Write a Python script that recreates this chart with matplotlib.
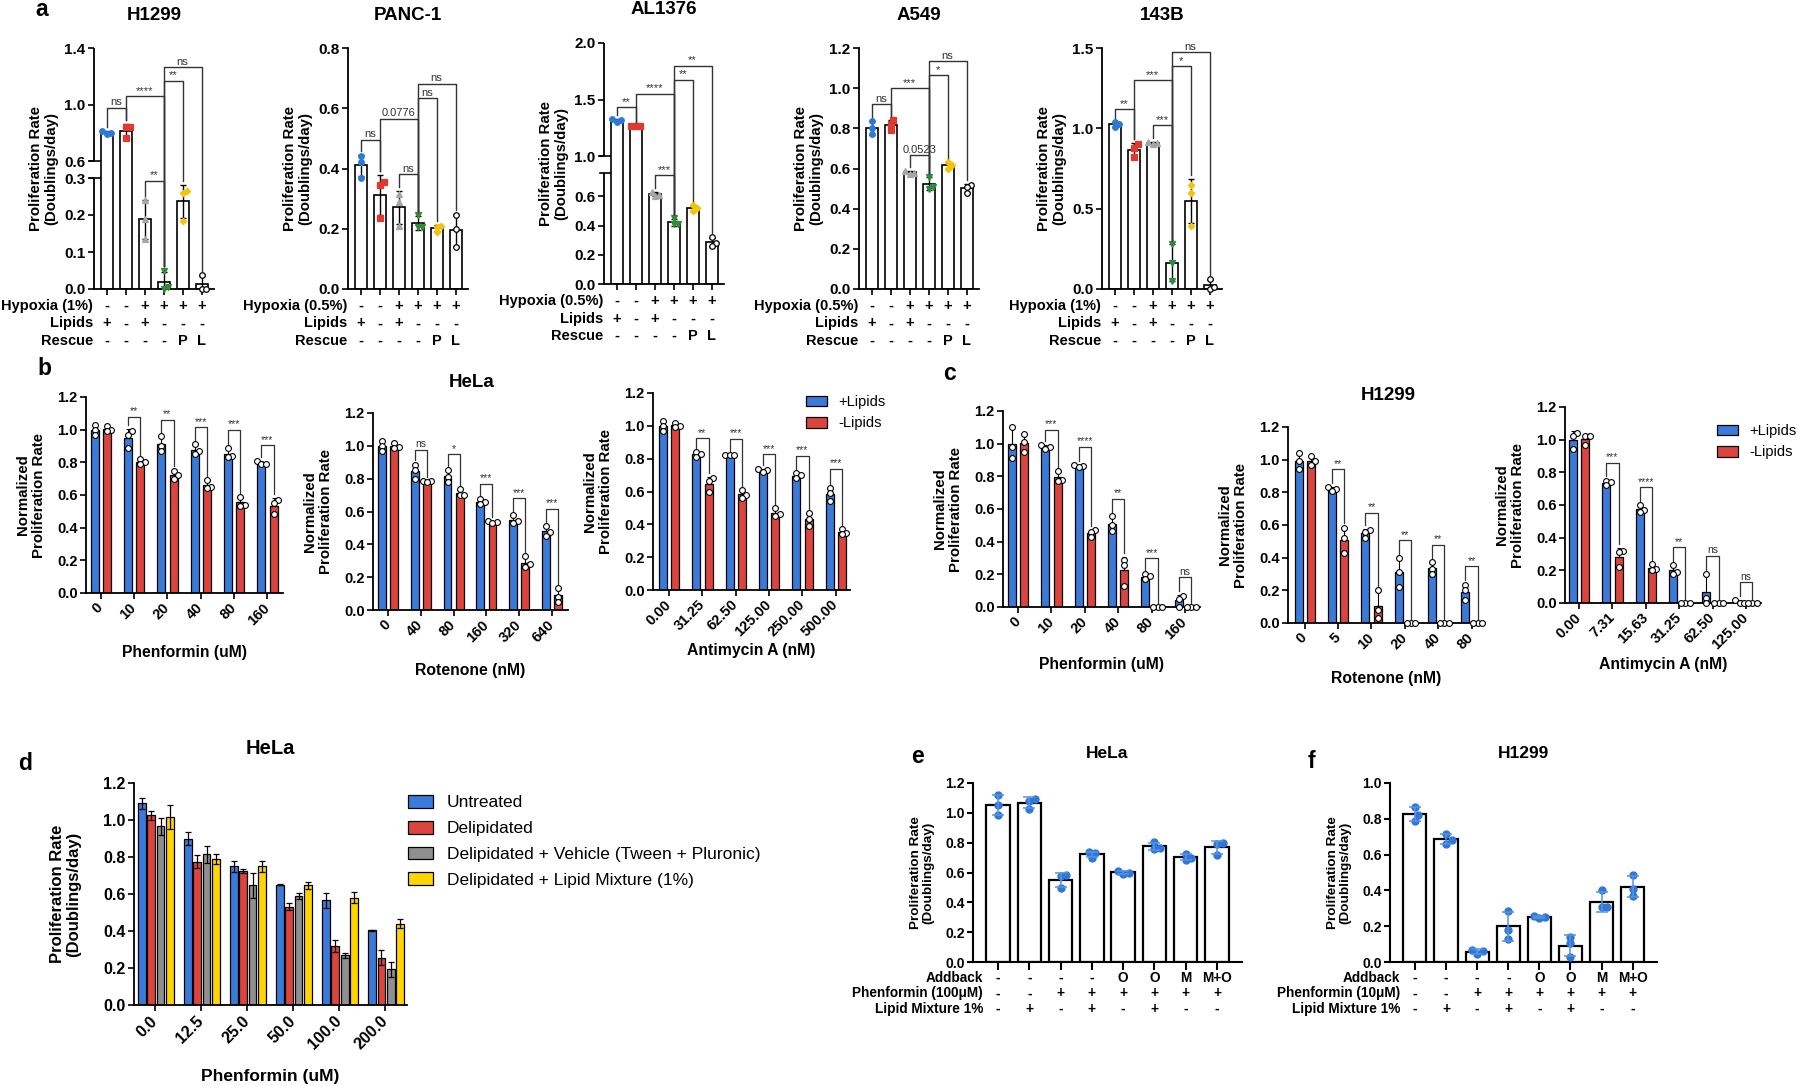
import numpy as np
import matplotlib
matplotlib.use('Agg')
import matplotlib.pyplot as plt
from matplotlib.patches import Patch
from matplotlib.transforms import blended_transform_factory as blend, offset_copy

plt.rcParams['font.family'] = ['Liberation Sans', 'DejaVu Sans']
plt.rcParams['font.weight'] = 'bold'
plt.rcParams['axes.labelweight'] = 'bold'

# ---------------- panel a : proliferation under hypoxia ----------------
h1299_pts = [[0.79, 0.81, 0.80], [0.84, 0.84, 0.76], [0.24, 0.19, 0.135],
             [0.05, 0.0, 0.005], [0.265, 0.26, 0.185], [0.038, 0.0, 0.0]]
panc1_pts = [[0.44, 0.42, 0.37], [0.355, 0.345, 0.235], [0.315, 0.29, 0.21],
             [0.245, 0.205, 0.205], [0.21, 0.205, 0.19], [0.245, 0.20, 0.14]]
al1376_pts = [[1.30, 1.33, 1.32], [1.27, 1.27, 1.265], [0.63, 0.61, 0.605],
              [0.45, 0.41, 0.41], [0.54, 0.52, 0.50], [0.32, 0.28, 0.26]]
a549_pts = [[0.835, 0.80, 0.77], [0.84, 0.82, 0.79], [0.59, 0.58, 0.575],
            [0.56, 0.50, 0.51], [0.63, 0.615, 0.60], [0.52, 0.51, 0.48]]
b143_pts = [[1.03, 1.04, 1.01], [0.90, 0.88, 0.82], [0.91, 0.915, 0.905],
            [0.28, 0.16, 0.05], [0.65, 0.60, 0.39], [0.06, 0.0, 0.01]]
# (bar i, bar j, bracket height, label)
h1299_sig = [(0, 1, 0.977, 'ns'), (1, 3, 1.06, '****'), (3, 4, 1.167, '**'), (3, 5, 1.262, 'ns'), (2, 3, 0.293, '**')]
panc1_sig = [(0, 1, 0.495, 'ns'), (1, 3, 0.565, '0.0776'), (2, 3, 0.382, 'ns'), (3, 4, 0.633, 'ns'), (3, 5, 0.681, 'ns')]
al1376_sig = [(0, 1, 1.432, '**'), (1, 3, 1.553, '****'), (3, 4, 1.676, '**'), (3, 5, 1.80, '**'), (2, 3, 0.745, '***')]
a549_sig = [(0, 1, 0.92, 'ns'), (1, 3, 1.0, '***'), (3, 4, 1.064, '*'), (3, 5, 1.133, 'ns'), (2, 3, 0.667, '0.0523')]
b143_sig = [(0, 1, 1.118, '**'), (1, 3, 1.30, '***'), (3, 4, 1.385, '*'), (3, 5, 1.474, 'ns'), (2, 3, 1.02, '***')]
a_hypoxia = ['-', '-', '+', '+', '+', '+']
a_lipids = ['+', '-', '+', '-', '-', '-']
a_rescue = ['-', '-', '-', '-', 'P', 'L']
a_markers = ['o', 's', '^', 'v', 'D', 'o']
a_colors = ['#2b7bd6', '#e0392f', '#a6a6a6', '#2e8b3a', '#f2c40c', 'white']

# ---------------- panels b, c : +/- lipids with ETC inhibitors ----------------
b1_ticks = ['0', '10', '20', '40', '80', '160']
b1_blue = [[1.03, 1.0, 0.97], [0.99, 0.97, 0.89], [0.96, 0.90, 0.87], [0.91, 0.87, 0.85], [0.89, 0.84, 0.83], [0.81, 0.79, 0.79]]
b1_red = [[1.02, 1.0, 0.99], [0.82, 0.80, 0.79], [0.75, 0.72, 0.70], [0.69, 0.65, 0.64], [0.59, 0.54, 0.535], [0.57, 0.55, 0.485]]
b1_sig = [(1, 1.08, '**'), (2, 1.06, '**'), (3, 1.016, '***'), (4, 1.0, '***'), (5, 0.904, '***')]

b2_ticks = ['0', '40', '80', '160', '320', '640']
b2_blue = [[1.03, 1.0, 0.97], [0.885, 0.855, 0.80], [0.85, 0.81, 0.78], [0.675, 0.66, 0.647], [0.58, 0.54, 0.53], [0.51, 0.473, 0.453]]
b2_red = [[1.02, 0.99, 0.985], [0.787, 0.783, 0.777], [0.736, 0.70, 0.70], [0.545, 0.535, 0.529], [0.327, 0.278, 0.261], [0.137, 0.082, 0.051]]
b2_sig = [(1, 0.976, 'ns'), (2, 0.95, '*'), (3, 0.769, '***'), (4, 0.681, '***'), (5, 0.616, '***')]

b3_ticks = ['0.00', '31.25', '62.50', '125.00', '250.00', '500.00']
b3_blue = [[1.03, 1.0, 0.97], [0.84, 0.83, 0.81], [0.825, 0.82, 0.82], [0.735, 0.73, 0.72], [0.71, 0.70, 0.68], [0.62, 0.59, 0.54]]
b3_red = [[1.02, 1.0, 0.99], [0.68, 0.665, 0.60], [0.61, 0.58, 0.56], [0.50, 0.46, 0.45], [0.47, 0.43, 0.39], [0.37, 0.35, 0.34]]
b3_sig = [(1, 0.925, '**'), (2, 0.92, '***'), (3, 0.827, '***'), (4, 0.817, '***'), (5, 0.738, '***')]

c1_ticks = ['0', '10', '20', '40', '80', '160']
c1_blue = [[1.10, 0.98, 0.91], [0.99, 0.98, 0.97], [0.87, 0.865, 0.86], [0.555, 0.50, 0.463], [0.20, 0.19, 0.17], [0.07, 0.05, 0.0]]
c1_red = [[1.06, 1.01, 0.95], [0.83, 0.78, 0.77], [0.47, 0.46, 0.43], [0.29, 0.255, 0.13], [0.0, 0.0, 0.0], [0.0, 0.0, 0.0]]
c1_sig = [(1, 1.086, '***'), (2, 0.98, '****'), (3, 0.663, '**'), (4, 0.30, '***'), (5, 0.184, 'ns')]

c2_ticks = ['0', '5', '10', '20', '40', '80']
c2_blue = [[1.04, 0.99, 0.94], [0.83, 0.82, 0.81], [0.57, 0.56, 0.52], [0.40, 0.31, 0.22], [0.376, 0.33, 0.30], [0.234, 0.20, 0.142]]
c2_red = [[1.02, 0.99, 0.97], [0.58, 0.52, 0.427], [0.20, 0.08, 0.03], [0.0, 0.0, 0.0], [0.0, 0.0, 0.0], [0.0, 0.0, 0.0]]
c2_sig = [(1, 0.94, '**'), (2, 0.675, '**'), (3, 0.508, '**'), (4, 0.478, '**'), (5, 0.346, '**')]

c3_ticks = ['0.00', '7.31', '15.63', '31.25', '62.50', '125.00']
c3_blue = [[1.04, 1.02, 0.94], [0.75, 0.74, 0.72], [0.60, 0.57, 0.56], [0.23, 0.19, 0.18], [0.18, 0.03, 0.0], [0.02, 0.0, 0.0]]
c3_red = [[1.02, 1.02, 0.97], [0.32, 0.31, 0.22], [0.24, 0.21, 0.20], [0.0, 0.0, 0.0], [0.0, 0.0, 0.0], [0.0, 0.0, 0.0]]
c3_sig = [(1, 0.858, '***'), (2, 0.71, '****'), (3, 0.34, '**'), (4, 0.29, 'ns'), (5, 0.126, 'ns')]

# ---------------- panel d ----------------
d_ticks = ['0.0', '12.5', '25.0', '50.0', '100.0', '200.0']
d_labels = ['Untreated', 'Delipidated', 'Delipidated + Vehicle (Tween + Pluronic)', 'Delipidated + Lipid Mixture (1%)']
d_untreated = [1.09, 0.90, 0.75, 0.65, 0.565, 0.405]
d_untreated_err = [0.03, 0.036, 0.03, 0.003, 0.039, 0.003]
d_delip = [1.025, 0.775, 0.725, 0.532, 0.32, 0.255]
d_delip_err = [0.025, 0.035, 0.01, 0.02, 0.034, 0.041]
d_vehicle = [0.965, 0.815, 0.646, 0.59, 0.268, 0.192]
d_vehicle_err = [0.045, 0.045, 0.066, 0.017, 0.014, 0.041]
d_lipid = [1.016, 0.79, 0.75, 0.648, 0.58, 0.44]
d_lipid_err = [0.067, 0.027, 0.03, 0.019, 0.029, 0.023]

# ---------------- panels e, f : addback ----------------
e_pts = [[1.12, 1.05, 0.988], [1.095, 1.08, 1.026], [0.58, 0.575, 0.498], [0.70, 0.735, 0.73],
         [0.592, 0.612, 0.597], [0.757, 0.804, 0.762], [0.686, 0.726, 0.70], [0.795, 0.717, 0.793]]
f_pts = [[0.79, 0.866, 0.819], [0.717, 0.661, 0.68], [0.045, 0.067, 0.063], [0.287, 0.18, 0.128],
         [0.246, 0.259, 0.253], [0.141, 0.028, 0.104], [0.305, 0.402, 0.305], [0.369, 0.484, 0.408]]
ef_addback = ['-', '-', '-', '-', 'O', 'O', 'M', 'M+O']
ef_phenformin = ['-', '-', '+', '+', '+', '+', '+', '+']
ef_lipid = ['-', '+', '-', '+', '-', '+', '-', '-']

BLUE, RED, GRAY, YEL = '#3a7ad8', '#dc443e', '#8f8f8f', '#ffd500'

W, H = 1800, 1086
fig = plt.figure(figsize=(W / 100, H / 100), dpi=100)


def fy(y):
    return 1 - y / H


def ftext(x, y, s, **kw):
    return fig.text(x / W, fy(y), s, **kw)


def add_ax(l, t, r, b, lw=1.3):
    ax = fig.add_axes([l / W, 1 - b / H, (r - l) / W, (b - t) / H])
    for s in ('top', 'right'):
        ax.spines[s].set_visible(False)
    for s in ('left', 'bottom'):
        ax.spines[s].set_linewidth(lw)
    ax.tick_params(direction='out', length=4, width=1.2, pad=2)
    return ax


def ylab(ax, s, dx, fs):
    ax.text(0, 0.5, s, transform=offset_copy(ax.transAxes, fig=fig, x=-dx, y=0, units='dots'),
            rotation=90, ha='center', va='center', fontsize=fs, multialignment='center', linespacing=1.1)


def make_break(ax, b_top, t_bot, y_top, hb, gap, ht):
    def fwd(y):
        y = np.asarray(y, dtype=float)
        lo = y / b_top * hb
        mid = hb + (y - b_top) / (t_bot - b_top) * gap
        hi = hb + gap + (y - t_bot) / (y_top - t_bot) * ht
        return np.where(y <= b_top, lo, np.where(y < t_bot, mid, hi))

    def inv(v):
        v = np.asarray(v, dtype=float)
        lo = v / hb * b_top
        mid = b_top + (v - hb) / gap * (t_bot - b_top)
        hi = t_bot + (v - hb - gap) / ht * (y_top - t_bot)
        return np.where(v <= hb, lo, np.where(v < hb + gap, mid, hi))

    ax.set_yscale('function', functions=(fwd, inv))
    ax.spines['left'].set_visible(False)
    tr = blend(ax.transAxes, ax.transData)
    wpx = ax.get_position().width * W
    for y0, y1 in ((0, b_top), (t_bot, y_top)):
        ax.plot([0, 0], [y0, y1], transform=tr, color='k', lw=1.3, clip_on=False, solid_capstyle='butt')
    for y0 in (b_top, t_bot):
        ax.plot([-4 / wpx, 7 / wpx], [y0, y0], transform=tr, color='k', lw=1.2, clip_on=False)


def swarm(ax, xc, vals, diam):
    t = ax.transData
    py = t.transform(np.column_stack([np.full(len(vals), xc), vals]))[:, 1]
    ux = t.transform([[xc + 1, 0]])[0, 0] - t.transform([[xc, 0]])[0, 0]
    placed = []
    offs = np.zeros(len(vals))
    for i in np.argsort(py):
        for k in (0, 1, -1, 2, -2, 3, -3, 4, -4):
            ox = k * diam * 0.4
            if all((ox - a) ** 2 + (py[i] - b) ** 2 >= (diam * 0.75) ** 2 for a, b in placed):
                break
        placed.append((ox, py[i]))
        offs[i] = ox / ux
    return xc + offs


def top_of(ax, pts, pad):
    pts = np.asarray(pts)
    top = max(pts.max(), pts.mean() + pts.std(ddof=1))
    py = ax.transData.transform([[0, top]])[0, 1] + pad
    return ax.transData.inverted().transform([[0, py]])[0, 1]


def bracket(ax, x1, x2, y, y1, y2, txt, fs=7, lw=0.9):
    ax.plot([x1, x1, x2, x2], [y1, y, y, y2], color='#333333', lw=lw, clip_on=False, zorder=5)
    ax.annotate(txt, ((x1 + x2) / 2, y), xytext=(0, 0.3), textcoords='offset points', ha='center',
                va='bottom', fontsize=fs, fontweight='normal', color='#333333', annotation_clip=False)


# ================= row a =================
a_panels = [
    ('H1299', h1299_pts, h1299_sig, 'Hypoxia (1%)', 94, 48, 289, 1.4, [0, 0.1, 0.2, 0.3, 0.6, 1.0, 1.4], (0.3, 0.6, 111, 17, 113)),
    ('PANC-1', panc1_pts, panc1_sig, 'Hypoxia (0.5%)', 348, 48, 289, 0.8, [0, 0.2, 0.4, 0.6, 0.8], None),
    ('AL1376', al1376_pts, al1376_sig, 'Hypoxia (0.5%)', 604, 43, 284, 2.0, [0, 0.2, 0.4, 0.6, 1.0, 1.5, 2.0], (0.76, 1.0, 111, 16.6, 113.4)),
    ('A549', a549_pts, a549_sig, 'Hypoxia (0.5%)', 859, 48, 289, 1.2, [0, 0.2, 0.4, 0.6, 0.8, 1.0, 1.2], None),
    ('143B', b143_pts, b143_sig, 'Hypoxia (1%)', 1102, 48, 289, 1.5, [0, 0.5, 1.0, 1.5], None),
]
for name, pts, sig, hyp, l, t, b, ytop, yt, brk in a_panels:
    ax = add_ax(l, t, l + 120, b)
    if brk:
        make_break(ax, brk[0], brk[1], ytop, brk[2], brk[3], brk[4])
    ax.set_ylim(0, ytop)
    ax.set_xlim(-0.66, 5.65)
    ax.set_yticks(yt)
    ax.set_yticklabels([f'{v:.1f}' for v in yt], fontsize=11)
    ax.set_xticks(range(6))
    ax.set_xticklabels([])
    x = np.arange(6)
    means = [np.mean(p) for p in pts]
    sds = [np.std(p, ddof=1) for p in pts]
    ax.bar(x, means, width=0.63, color='white', edgecolor='black', lw=1.2, zorder=2)
    ax.errorbar(x, means, yerr=sds, fmt='none', ecolor='black', elinewidth=1, capsize=2.5, capthick=1, zorder=3)
    for i, p in enumerate(pts):
        ec = 'black' if a_colors[i] == 'white' else a_colors[i]
        ax.plot(swarm(ax, i, p, 5.5), p, ls='none', marker=a_markers[i], ms=4 if a_markers[i] != 'D' else 3.3,
                mfc=a_colors[i], mec=ec, mew=0.9, zorder=4, clip_on=False)
    for i, j, y, txt in sig:
        bracket(ax, i, j, y, top_of(ax, pts[i], 4), top_of(ax, pts[j], 4), txt, fs=8, lw=1.0)
    ylab(ax, 'Proliferation Rate\n(Doublings/day)', 50, 10.8)
    ftext(l + 60, t - 33, name, ha='center', va='center', fontsize=13.5)
    tr = blend(ax.transData, fig.transFigure)
    for k, (lab, row) in enumerate(((hyp, a_hypoxia), ('Lipids', a_lipids), ('Rescue', a_rescue))):
        yy = b + 17 + k * 17.5
        ftext(l - 1, yy, lab, ha='right', va='center', fontsize=10.5)
        for j, v in enumerate(row):
            ax.text(j, fy(yy), v, transform=tr, ha='center', va='center', fontsize=10.5)

# ================= rows b, c =================
bc_panels = [
    (b1_blue, b1_red, b1_sig, b1_ticks, 'Phenformin (uM)', (86, 397, 283, 593), (-0.44, 5.47), 653),
    (b2_blue, b2_red, b2_sig, b2_ticks, 'Rotenone (nM)', (373, 413, 568, 610), (-0.46, 5.49), 671),
    (b3_blue, b3_red, b3_sig, b3_ticks, 'Antimycin A (nM)', (653, 393, 850, 590), (-0.48, 5.43), 651),
    (c1_blue, c1_red, c1_sig, c1_ticks, 'Phenformin (uM)', (1003, 411, 1200, 607), (-0.45, 5.45), 665),
    (c2_blue, c2_red, c2_sig, c2_ticks, 'Rotenone (nM)', (1288, 427, 1485, 623), (-0.5, 5.4), 678),
    (c3_blue, c3_red, c3_sig, c3_ticks, 'Antimycin A (nM)', (1565, 407, 1761, 603), (-0.42, 5.45), 664),
]
off, bw = 0.185, 0.24
for blue, red, sig, ticks, xl, (l, t, r, b), xlim, xly in bc_panels:
    ax = add_ax(l, t, r, b)
    ax.set_ylim(0, 1.2)
    ax.set_xlim(*xlim)
    yt = [0, 0.2, 0.4, 0.6, 0.8, 1.0, 1.2]
    ax.set_yticks(yt)
    ax.set_yticklabels([f'{v:.1f}' for v in yt], fontsize=10.5)
    ax.set_xticks(range(6))
    ax.set_xticklabels(ticks, rotation=45, ha='right', va='center', rotation_mode='anchor', fontsize=10.5)
    ax.tick_params(axis='x', pad=5)
    x = np.arange(6)
    for pts, col, dx in ((blue, BLUE, -off), (red, RED, off)):
        m = np.array([np.mean(p) for p in pts])
        s = np.array([np.std(p, ddof=1) for p in pts])
        ax.bar(x + dx, m, width=bw, color=col, edgecolor='black', lw=0.9, zorder=2)
        ax.errorbar(x + dx, m, yerr=[np.zeros(6), s], fmt='none', ecolor='black', elinewidth=0.8,
                    capsize=1.5, capthick=0.8, zorder=3)
        for i, p in enumerate(pts):
            ax.plot(swarm(ax, i + dx, p, 5.5), p, ls='none', marker='o', ms=4.2, mfc='white', mec='black',
                    mew=0.8, zorder=4, clip_on=False)
    for g, y, txt in sig:
        bracket(ax, g - off, g + off, y, top_of(ax, blue[g], 4), top_of(ax, red[g], 4), txt, fs=7.5, lw=0.9)
    ylab(ax, 'Normalized\nProliferation Rate', 55, 10.8)
    ftext((l + r) / 2, xly, xl, ha='center', va='center', fontsize=11.3)

ftext(472, 383, 'HeLa', ha='center', va='center', fontsize=13.5)
ftext(1388, 395, 'H1299', ha='center', va='center', fontsize=13.5)
lip_handles = [Patch(facecolor=BLUE, edgecolor='black', lw=0.9), Patch(facecolor=RED, edgecolor='black', lw=0.9)]
for lx, ly in ((806, 395), (1717, 424)):
    fig.legend(lip_handles, ['+Lipids', '-Lipids'], loc='upper left', bbox_to_anchor=(lx / W, fy(ly)),
               frameon=False, borderpad=0, borderaxespad=0, handlelength=1.45, handleheight=0.75,
               handletextpad=0.75, labelspacing=0.5, prop={'size': 10.5, 'weight': 'normal'})

# ================= row d =================
ax = add_ax(134, 783, 407, 1005)
ax.set_ylim(0, 1.2)
ax.set_xlim(-0.46, 5.47)
yt = [0, 0.2, 0.4, 0.6, 0.8, 1.0, 1.2]
ax.set_yticks(yt)
ax.set_yticklabels([f'{v:.1f}' for v in yt], fontsize=11.5)
ax.set_xticks(range(6))
ax.set_xticklabels(d_ticks, rotation=45, ha='right', va='center', rotation_mode='anchor', fontsize=11.5)
ax.tick_params(axis='x', pad=6)
x = np.arange(6)
series = [(d_untreated, d_untreated_err, BLUE), (d_delip, d_delip_err, RED),
          (d_vehicle, d_vehicle_err, GRAY), (d_lipid, d_lipid_err, YEL)]
for k, (m, e, col) in enumerate(series):
    xs = x + (k - 1.5) * 0.205 + 0.015
    ax.bar(xs, m, width=0.165, color=col, edgecolor='black', lw=0.9, zorder=2, label=d_labels[k])
    ax.errorbar(xs, m, yerr=e, fmt='none', ecolor='black', elinewidth=0.9, capsize=2.2, capthick=0.9, zorder=3)
ylab(ax, 'Proliferation Rate\n(Doublings/day)', 68, 12)
ftext(270, 748, 'HeLa', ha='center', va='center', fontsize=14.5)
ftext(270, 1077, 'Phenformin (uM)', ha='center', va='center', fontsize=12.5)
ax.legend(loc='upper left', bbox_to_anchor=(408 / W, fy(795)), bbox_transform=fig.transFigure,
          frameon=False, borderpad=0, borderaxespad=0, handlelength=1.44, handleheight=0.75,
          handletextpad=0.8, labelspacing=0.6, prop={'size': 12.5, 'weight': 'normal'})

# ================= rows e, f =================
ef_panels = [
    ('HeLa', e_pts, 'Phenformin (100\u03bcM)', (973, 783, 1242, 962), 1.2, (-0.8, 7.8)),
    ('H1299', f_pts, 'Phenformin (10\u03bcM)', (1390, 783, 1657, 962), 1.0, (-0.8, 7.78)),
]
for name, pts, phen, (l, t, r, b), ytop, xlim in ef_panels:
    ax = add_ax(l, t, r, b, lw=1.5)
    ax.set_ylim(0, ytop)
    ax.set_xlim(*xlim)
    yt = np.round(np.arange(0, ytop + 0.01, 0.2), 1)
    ax.set_yticks(yt)
    ax.set_yticklabels([f'{v:.1f}' for v in yt], fontsize=10)
    ax.set_xticks(range(8))
    ax.set_xticklabels([])
    ax.tick_params(axis='x', length=6, width=1.5)
    ax.tick_params(axis='y', width=1.5)
    x = np.arange(8)
    m = [np.mean(p) for p in pts]
    s = [np.std(p, ddof=1) for p in pts]
    ax.bar(x, m, width=0.745, color='white', edgecolor='black', lw=1.6, zorder=2)
    for i, p in enumerate(pts):
        ax.plot(swarm(ax, i, p, 7), p, ls='none', marker='o', ms=5, mfc='#2f78d8', mec='#2f78d8',
                zorder=3, clip_on=False)
    ax.errorbar(x, m, yerr=s, fmt='none', ecolor='#5a93de', elinewidth=1.1, capsize=4.5, capthick=1.1, zorder=4)
    ylab(ax, 'Proliferation Rate\n(Doublings/day)', 51, 9.7)
    ftext((l + r) / 2, 753, name, ha='center', va='center', fontsize=12.5)
    tr = blend(ax.transData, fig.transFigure)
    for k, (lab, row) in enumerate((('Addback', ef_addback), (phen, ef_phenformin), ('Lipid Mixture 1%', ef_lipid))):
        yy = 978 + k * 15.5
        ftext(l + 10, yy, lab, ha='right', va='center', fontsize=9.8)
        for j, v in enumerate(row):
            ax.text(j, fy(yy), v, transform=tr, ha='center', va='center', fontsize=9.8)

# panel letters (baseline positions)
for lab, px, py in (('a', 42, 16), ('b', 44, 375), ('c', 950, 380), ('d', 25, 770), ('e', 917, 763), ('f', 1311, 768)):
    ftext(px, py, lab, ha='center', va='baseline', fontsize=16.5)

fig.savefig('out.png', dpi=100)
